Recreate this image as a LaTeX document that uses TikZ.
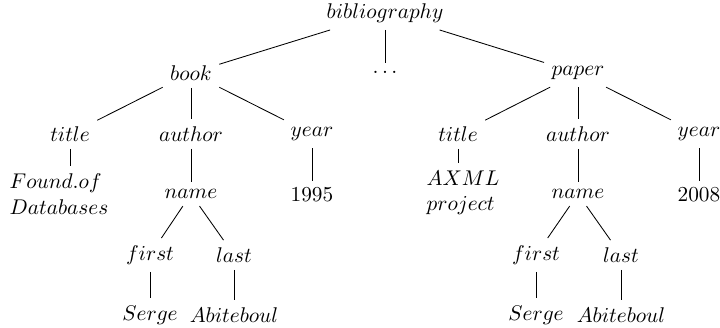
\documentclass[tikz,border=0pt]{standalone}
\begin{document}
\begin{tikzpicture}[x=0.4695pt,y=-0.4695pt,
  lbl/.style={inner sep=3.33pt},
  twoline/.style={lbl,align=left},
  edge/.style={draw,line width=0.4pt}]
\useasboundingbox (0,0) rectangle (720,328);
% level 0
\node[lbl] (bib) at (385,13) {$bibliography$};
% level 1
\node[lbl] (book) at (191,73) {$book$};
\node[lbl] (dots) at (385,72) {$\ldots$};
\node[lbl] (paper) at (578,73) {$paper$};
% level 2
\node[lbl] (title1) at (70,134) {$title$};
\node[lbl] (author1) at (191,134) {$author$};
\node[lbl] (year1) at (312,134) {$year$};
\node[lbl] (title2) at (458,134) {$title$};
\node[lbl] (author2) at (578,134) {$author$};
\node[lbl] (year2) at (699,134) {$year$};
% level 3
\node[twoline] (found) at (59,194) {$Found.of$\\$Databases$};
\node[lbl] (name1) at (191,194) {$name$};
\node[lbl] (y1995) at (312,195) {$1995$};
\node[twoline] (axml) at (463,193) {$AXML$\\$project$};
\node[lbl] (name2) at (578,194) {$name$};
\node[lbl] (y2008) at (699,195) {$2008$};
% level 4
\node[lbl] (first1) at (150,255) {$first$};
\node[lbl] (last1) at (234,255) {$last$};
\node[lbl] (first2) at (536,255) {$first$};
\node[lbl] (last2) at (621,255) {$last$};
% level 5
\node[lbl] (serge1) at (150,315) {$Serge$};
\node[lbl] (abit1) at (234,315) {$Abiteboul$};
\node[lbl] (serge2) at (536,315) {$Serge$};
\node[lbl] (abit2) at (621,315) {$Abiteboul$};
% edges
\path[edge] (bib) -- (book);
\path[edge] (bib) -- (dots);
\path[edge] (bib) -- (paper);
\path[edge] (book) -- (title1);
\path[edge] (book) -- (author1);
\path[edge] (book) -- (year1);
\path[edge] (paper) -- (title2);
\path[edge] (paper) -- (author2);
\path[edge] (paper) -- (year2);
\path[edge] (title1) -- (title1 |- found.north);
\path[edge] (author1) -- (name1);
\path[edge] (year1) -- (y1995);
\path[edge] (title2) -- (title2 |- axml.north);
\path[edge] (author2) -- (name2);
\path[edge] (year2) -- (y2008);
\path[edge] (name1) -- (first1);
\path[edge] (name1) -- (last1);
\path[edge] (name2) -- (first2);
\path[edge] (name2) -- (last2);
\path[edge] (first1) -- (serge1);
\path[edge] (last1) -- (abit1);
\path[edge] (first2) -- (serge2);
\path[edge] (last2) -- (abit2);
\end{tikzpicture}
\end{document}
